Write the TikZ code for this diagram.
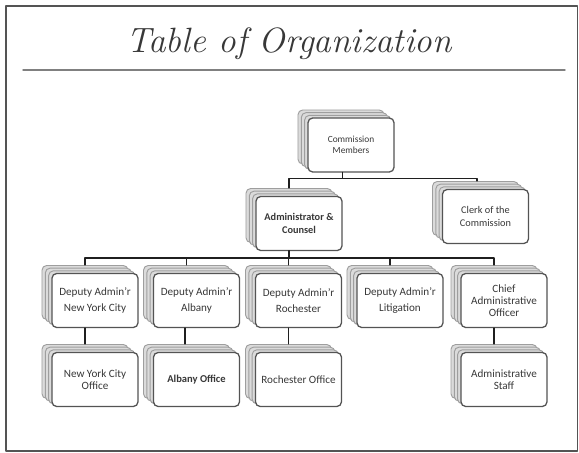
\documentclass[tikz,border=0pt]{standalone}
\usepackage{fontspec}
\setsansfont{Carlito}
\usetikzlibrary{shadows}
\definecolor{sqsqsq}{rgb}{0.33,0.33,0.33}
\definecolor{uququq}{rgb}{0.22,0.22,0.22}
\definecolor{qqqqqq}{rgb}{0.12,0.12,0.12}
\definecolor{cqcqcq}{rgb}{0.62,0.62,0.62}
\definecolor{eqeqeq}{rgb}{0.86,0.86,0.86}
\definecolor{aqaqaq}{rgb}{0.5,0.5,0.5}

\begin{document}
\begin{tikzpicture}[line cap=round,line join=round,x=0.03cm,y=-0.03cm,
  unit/.style={draw=sqsqsq,line width=1.1pt,fill=white,rounded corners=4pt,
    minimum width=2.58cm,minimum height=1.62cm,inner sep=1pt,align=center,text=uququq,
    font=\sffamily\fontsize{9.5}{10.5}\selectfont,
    copy shadow={shadow xshift=-0.3cm,shadow yshift=0.24cm,draw=cqcqcq,fill=eqeqeq,line width=0.8pt},
    copy shadow={shadow xshift=-0.2cm,shadow yshift=0.16cm,draw=cqcqcq,fill=eqeqeq,line width=0.8pt},
    copy shadow={shadow xshift=-0.1cm,shadow yshift=0.08cm,draw=cqcqcq,fill=eqeqeq,line width=0.8pt}},
  link/.style={draw=qqqqqq,line width=1.2pt}]

\useasboundingbox (0,0) rectangle (579,453);
\draw [line width=1.3pt,color=sqsqsq] (6,6) rectangle (577.5,451);
\node [font=\rmfamily\itshape\fontsize{30}{34}\selectfont,text=uququq] (title) at (289,44) {Table of Organization};
\draw [line width=1.2pt,color=aqaqaq] (23,70) -- (565,70);

% top of the chart
\node [unit,font=\sffamily\fontsize{8}{9.6}\selectfont] (cm) at (351,145) {Commission\\Members};
\node [unit,font=\sffamily\bfseries\fontsize{8.8}{10.5}\selectfont] (ac) at (299,223.5) {Administrator \&\\Counsel};
\node [unit,font=\sffamily\fontsize{8.8}{10.5}\selectfont] (cc) at (485.5,216.5) {Clerk of the\\Commission};

% deputies
\node [unit] (nyc) at (95,300.5) {Deputy Admin'r\\[3.5pt]New York City};
\node [unit] (alb) at (196.5,300.5) {Deputy Admin'r\\[3.5pt]Albany};
\node [unit] (roc) at (298.5,300.5) {Deputy Admin'r\\[3.5pt]Rochester};
\node [unit] (lit) at (400,300.5) {Deputy Admin'r\\[3.5pt]Litigation};
\node [unit] (cao) at (504,300.5) {Chief\\Administrative\\Officer};

% offices
\node [unit] (nyo) at (95,379.5) {New York City\\Office};
\node [unit,font=\sffamily\bfseries\fontsize{9}{10.5}\selectfont] (alo) at (196.5,379.5) {Albany Office};
\node [unit] (roo) at (298.5,379.5) {Rochester Office};
\node [unit] (ast) at (504,379.5) {Administrative\\Staff};

\draw [link] ([xshift=-0.25cm]cm.south) -- ++(0,6) -| ([xshift=-0.3cm,yshift=0.24cm]ac.north);
\draw [link] ([xshift=-0.25cm]cm.south) -- ++(0,6) -| ([xshift=-0.26cm,yshift=0.24cm]cc.north);
\foreach \u in {nyc,alb,roc,lit,cao}
  \draw [link] ([xshift=-0.3cm]ac.south) -- ++(0,7) -| ([xshift=-0.3cm,yshift=0.24cm]\u.north);
\draw [link] ([xshift=-0.3cm]nyc.south) -- ([xshift=-0.3cm,yshift=0.24cm]nyo.north);
\draw [link] ([xshift=-0.34cm]alb.south) -- ([xshift=-0.34cm,yshift=0.24cm]alo.north);
\draw [link] ([xshift=-0.3cm]roc.south) -- ([xshift=-0.3cm,yshift=0.24cm]roo.north);
\draw [link] ([xshift=-0.3cm]cao.south) -- ([xshift=-0.3cm,yshift=0.24cm]ast.north);

\end{tikzpicture}
\end{document}
